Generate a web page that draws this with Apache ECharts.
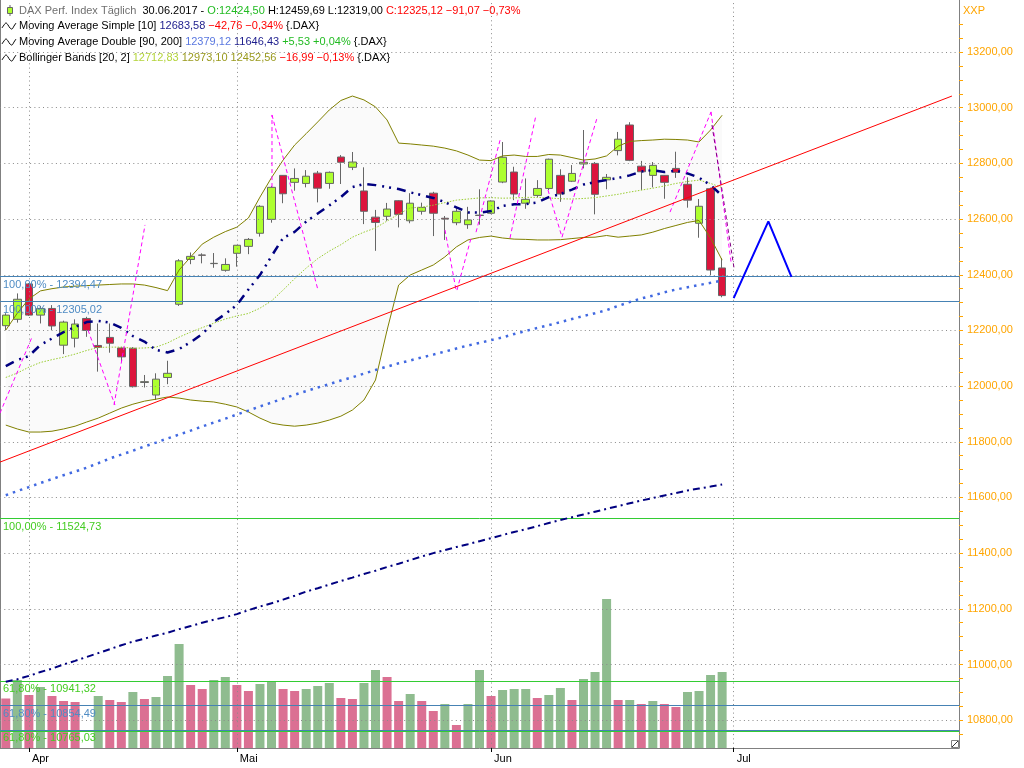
<!DOCTYPE html>
<html><head><meta charset="utf-8">
<script src="https://cdn.jsdelivr.net/npm/echarts@6/dist/echarts.min.js"></script>
<style>html,body{margin:0;padding:0;background:#fff}#c{width:1024px;height:768px}</style>
</head><body><div id="c"></div>
<script>
// ---------- categories (trading days + future slots) ----------
const dates = ['30.03.2017','31.03.2017',
 '03.04.2017','04.04.2017','05.04.2017','06.04.2017','07.04.2017','10.04.2017','11.04.2017','12.04.2017','13.04.2017',
 '18.04.2017','19.04.2017','20.04.2017','21.04.2017','24.04.2017','25.04.2017','26.04.2017','27.04.2017','28.04.2017',
 '02.05.2017','03.05.2017','04.05.2017','05.05.2017','08.05.2017','09.05.2017','10.05.2017','11.05.2017','12.05.2017',
 '15.05.2017','16.05.2017','17.05.2017','18.05.2017','19.05.2017','22.05.2017','23.05.2017','24.05.2017','25.05.2017',
 '26.05.2017','29.05.2017','30.05.2017','31.05.2017',
 '01.06.2017','02.06.2017','06.06.2017','07.06.2017','08.06.2017','09.06.2017','12.06.2017','13.06.2017','14.06.2017',
 '15.06.2017','16.06.2017','19.06.2017','20.06.2017','21.06.2017','22.06.2017','23.06.2017','26.06.2017','27.06.2017',
 '28.06.2017','29.06.2017','30.06.2017',
 '03.07.2017','04.07.2017','05.07.2017','06.07.2017','07.07.2017','10.07.2017','11.07.2017','12.07.2017','13.07.2017',
 '14.07.2017','17.07.2017','18.07.2017','19.07.2017','20.07.2017','21.07.2017','24.07.2017','25.07.2017','26.07.2017',
 '27.07.2017','28.07.2017'];
const monthIdx = [2, 20, 42, 63];
const monthNames = ['Apr', 'Mai', 'Jun', 'Jul'];

// ---------- price (OHLC) ----------
const open  = [12217,12240,12367,12255,12279,12147,12172,12243,12146,12175,12137,12136,12013,11968,12031,12294,12455,12471,12440,12416,
 12477,12502,12549,12599,12757,12732,12728,12765,12728,12823,12786,12701,12607,12610,12666,12594,12628,12693,12603,12587,12580,12614,
 12621,12733,12769,12657,12685,12710,12757,12736,12798,12800,12741,12846,12938,12790,12757,12757,12782,12725,12585,12709,12424.50];
const high  = [12262,12333,12370,12288,12291,12235,12240,12249,12225,12225,12141,12140,12040,12046,12091,12456,12480,12477,12478,12459,
 12507,12532,12650,12719,12758,12782,12776,12773,12771,12830,12841,12786,12633,12658,12668,12693,12659,12698,12611,12644,12644,12707,
 12667,12877,12788,12746,12740,12817,12779,12794,12920,12805,12762,12913,12948,12809,12805,12758,12842,12750,12672,12713,12459.69];
const low   = [12201,12228,12252,12225,12201,12115,12139,12177,12052,12120,12087,11995,11995,11950,12007,12288,12438,12441,12425,12411,
 12429,12474,12537,12587,12657,12702,12714,12660,12709,12726,12776,12582,12486,12594,12570,12585,12616,12539,12525,12578,12565,12580,
 12618,12729,12668,12637,12678,12704,12662,12733,12782,12617,12707,12829,12808,12704,12714,12673,12748,12641,12533,12399,12319.00];
const close = [12255,12312,12255,12279,12216,12230,12223,12200,12139,12154,12105,11998,12016,12025,12046,12450,12466,12470,12441,12437,
 12506,12527,12646,12714,12691,12746,12754,12711,12768,12804,12805,12628,12588,12636,12617,12657,12642,12621,12600,12628,12597,12613,
 12665,12822,12690,12671,12710,12815,12690,12764,12804,12689,12750,12887,12811,12770,12793,12732,12768,12668,12646,12417,12325.12];

// ---------- volume (relative units) and bar colouring ----------
const volume = [99,136,106,122,104,94,92,null,104,96,92,112,98,102,144,208,126,118,136,142,
 126,114,128,132,118,114,118,124,130,100,98,130,156,142,94,108,94,74,88,46,88,156,
 104,116,118,118,100,106,120,96,138,152,298,96,96,88,94,88,82,112,114,146,152];
const volumeUp = [0,1,0,1,0,0,0,0,1,0,0,1,0,1,1,1,0,0,1,1,
 0,0,1,1,0,0,1,1,1,0,0,1,1,0,0,1,0,0,1,0,1,1,
 0,1,1,1,0,1,1,0,1,1,1,0,1,0,1,0,0,1,1,1,1];

// ---------- indicators ----------
const sma10 = [12072,12094,12108,12148,12171,12194,12212,12230,12234,12228,12209,12180,12160,12130,12121,12133,12158,12187,12230,12259,
 12291,12347,12399,12467,12532,12554,12591,12620,12649,12679,12715,12726,12722,12715,12708,12696,12686,12676,12661,12642,12624,12623,
 12629,12647,12653,12654,12660,12679,12690,12706,12724,12733,12740,12748,12757,12771,12776,12769,12774,12764,12749,12722,12683.58];
const ma90 = [11608,11623,11637,11652,11666,11680,11693,11707,11723,11740,11754,11768,11783,11797,11812,11826,11840,11855,11869,11883,
 11898,11912,11927,11941,11955,11969,11982,11995,12007,12020,12032,12045,12058,12070,12082,12092,12103,12113,12124,12135,12146,12155,
 12165,12175,12187,12198,12209,12219,12230,12241,12252,12262,12273,12288,12302,12315,12325,12337,12347,12355,12363,12371,12379.12];
const ma200 = [10938,10947,10959,10973,10985,11000,11013,11027,11041,11055,11069,11082,11093,11104,11114,11127,11138,11150,11161,11170,
 11181,11195,11208,11220,11233,11247,11262,11274,11287,11300,11312,11325,11337,11350,11362,11375,11388,11400,11411,11422,11432,11443,
 11454,11465,11476,11486,11497,11508,11519,11529,11539,11549,11559,11569,11579,11589,11598,11607,11616,11625,11632,11639,11646.43];
const bbMid = [12031,12047,12068,12085,12095,12104,12115,12128,12139,12140,12140,12136,12137,12140,12155,12176,12194,12210,12226,12241,
 12252,12261,12280,12306,12345,12386,12424,12458,12485,12508,12535,12553,12568,12593,12618,12640,12643,12650,12659,12668,12672,12676,
 12677,12675,12676,12678,12678,12676,12673,12672,12674,12677,12683,12689,12697,12704,12711,12719,12728,12735,12740,12728,12712.83];
const bbUpper = [12201,12262,12313,12342,12350,12356,12359,12361,12363,12365,12367,12367,12363,12354,12343,12417,12464,12510,12535,12555,
 12571,12604,12679,12749,12812,12866,12907,12949,12992,13026,13042,13028,13003,12956,12873,12870,12866,12862,12855,12845,12830,12812,
 12810,12827,12830,12825,12825,12832,12830,12821,12812,12816,12827,12862,12879,12882,12884,12887,12886,12884,12877,12920,12973.10];
const bbLower = [11860,11846,11835,11835,11838,11846,11856,11871,11885,11903,11921,11935,11946,11953,11961,11957,11950,11946,11943,11935,
 11925,11907,11885,11867,11860,11856,11860,11867,11878,11892,11914,11950,12022,12201,12363,12399,12417,12435,12464,12500,12525,12534,
 12539,12532,12528,12527,12525,12525,12526,12530,12534,12535,12541,12535,12539,12543,12553,12566,12577,12588,12595,12532,12452.56];

// ---------- drawings (slot position, price) ----------
const trendX = [-0.5, 81.89];
const trendY = [11727, 13042];
const projX = [63, 66, 68];
const projY = [12316, 12592, 12392];
const trendMarkX = 62, trendMarkY = 12727.09;
// dashed cycle lines: [slotA, priceA, slotB, priceB]
const cycleSegments = [
  [-0.5, 11903, 2.27, 12176],
  [7.12, 12201, 9.45, 11932],
  [9.37, 11932, 12.05, 12579],
  [23.04, 12715, 23.04, 12974],
  [23.04, 12974, 27.02, 12345],
  [38.01, 12561, 38.97, 12345],
  [39.05, 12345, 40.27, 12532],
  [40.70, 12553, 42.78, 12884],
  [43.64, 12532, 45.89, 12974],
  [46.93, 12704, 48.14, 12535],
  [48.14, 12535, 51.17, 12963],
  [57.49, 12625, 61.04, 12985],
  [61.04, 12985, 62.77, 12446]
];
const cycleSegmentsPurple = [
  [61.12, 12938, 63.03, 12424]
];
const fibValues = [12394.47, 12305.02, 11524.73, 10941.32, 10854.49, 10765.03, 10761.10];
const fibLabels = ['100,00% - 12394,47','100,00% - 12305,02','100,00% - 11524,73','61,80% - 10941,32','61,80% - 10854,49','61,80% - 10765,03',''];
const fibKind   = ['b','b','g','g','b','b','g'];
const fibLabelKind = ['b','b','g','g','b','g','g'];

// ---------- axis values ----------
const yMin = 10700, yMax = 13387;
const yLabelValues = [10800,11000,11200,11400,11600,11800,12000,12200,12400,12600,12800,13000,13200];
const yTickValues = [];
for (let v = 10750; v <= 13300; v += 50) yTickValues.push(v);

const FONT = '"Liberation Sans", Arial, sans-serif';
const ORANGE = '#FFA500';
const fibLine = {b: '#4682b4', g: '#33cc33'};
const fibText = {b: '#4f8cc4', g: '#44cc22'};

const chart = echarts.init(document.getElementById('c'), null, {renderer: 'canvas'});
const fmtNum = v => v.toFixed(2).replace('.', ',');

const segSeries = (segs, color, z) => segs.map(s => ({
  type: 'line', xAxisIndex: 1, symbol: 'none', z: z, silent: true,
  data: [[s[0], s[1]], [s[2], s[3]]],
  lineStyle: {color: color, width: 1, type: [4, 3]}
}));

const option = {
  animation: false,
  backgroundColor: '#fff',
  textStyle: {fontFamily: FONT},
  grid: {left: 0, right: 65, top: 0, bottom: 20, containLabel: false},
  xAxis: [
    {type: 'category', data: dates, boundaryGap: true,
     axisLine: {show: true, onZero: false, lineStyle: {color: '#808080'}},
     axisTick: {show: true, alignWithLabel: true, length: 4, interval: (i) => monthIdx.includes(i), lineStyle: {color: '#000'}},
     axisLabel: {interval: (i) => monthIdx.includes(i), formatter: (v, i) => monthNames[monthIdx.indexOf(i)] || '',
                 align: 'left', padding: [0, 0, 0, 3], color: '#000', fontSize: 11, fontFamily: FONT, margin: 5},
     splitLine: {show: false}},
    {type: 'value', min: -0.5, max: dates.length - 0.5, show: false, axisLine: {onZero: false}}
  ],
  yAxis: [
    {type: 'value', position: 'right', min: yMin, max: yMax, scale: true,
     axisLine: {show: true, onZero: false, lineStyle: {color: '#808080'}},
     axisTick: {show: true, customValues: yTickValues, length: 4, lineStyle: {color: ORANGE}},
     axisLabel: {customValues: yLabelValues, formatter: fmtNum, color: ORANGE, fontSize: 11, fontFamily: FONT, margin: 8},
     splitLine: {show: false}},
    {type: 'value', min: 0, max: 1496, show: false, axisLine: {onZero: false}}
  ],
  series: [
    // grid lines
    {type: 'line', data: [], z: 1, silent: true,
     markLine: {silent: true, symbol: ['none', 'none'], animation: false, label: {show: false},
       lineStyle: {type: [1, 3.3], color: '#8a8a8a', width: 1},
       data: yLabelValues.map(v => ({yAxis: v})).concat(monthIdx.map(i => ({xAxis: dates[i]})))}},
    // bollinger fill
    {type: 'line', data: bbLower, stack: 'bb', symbol: 'none', silent: true, z: 1, lineStyle: {opacity: 0}},
    {type: 'line', data: bbUpper.map((u, i) => u - bbLower[i]), stack: 'bb', symbol: 'none', silent: true, z: 1,
     lineStyle: {opacity: 0}, areaStyle: {color: 'rgba(0,0,0,0.028)'}},
    // volume
    {type: 'bar', yAxisIndex: 1, barWidth: 9, z: 2,
     data: volume.map((v, i) => v == null ? null : {value: v, itemStyle: {color: volumeUp[i] ? '#8fbc8f' : '#db7093'}})},
    // fibonacci levels
    {type: 'line', data: [], z: 3, silent: true,
     markLine: {silent: true, symbol: ['none', 'none'], animation: false,
       data: fibValues.map((v, i) => ({yAxis: v,
         lineStyle: {color: fibLine[fibKind[i]], width: 1, type: 'solid'},
         label: {show: fibLabels[i] !== '', position: 'insideStartBottom', formatter: fibLabels[i],
                 color: fibText[fibLabelKind[i]], fontSize: 11, fontFamily: FONT, distance: [3, 3]}}))}},
    // candles
    {type: 'candlestick', barWidth: 8, z: 3,
     data: open.map((o, i) => [o, close[i], low[i], high[i]]),
     itemStyle: {color: '#adff2f', color0: '#dc143c', borderColor: '#666', borderColor0: '#666', borderColorDoji: '#666', borderWidth: 1}},
    // bollinger lines
    {type: 'line', data: bbUpper, symbol: 'none', z: 4, lineStyle: {color: '#808000', width: 1}},
    {type: 'line', data: bbLower, symbol: 'none', z: 4, lineStyle: {color: '#808000', width: 1}},
    {type: 'line', data: bbMid, symbol: 'none', z: 4, lineStyle: {color: '#9acd32', width: 1, type: [1.5, 1.5]}},
    // moving averages
    {type: 'line', data: ma90, symbol: 'none', z: 5, lineStyle: {color: '#4169e1', width: 2.5, type: [2.5, 5]}},
    {type: 'line', data: ma200, symbol: 'none', z: 5, lineStyle: {color: '#000080', width: 2, type: [7, 4, 2, 4]}},
    {type: 'line', data: sma10, symbol: 'none', z: 5, lineStyle: {color: '#000080', width: 2.5, type: [9, 6, 2, 5, 2, 6]}},
    // cycle lines
    ...segSeries(cycleSegments, '#ff00ff', 5),
    ...segSeries(cycleSegmentsPurple, '#800080', 5),
    // trend line
    {type: 'line', xAxisIndex: 1, data: trendX.map((x, i) => [x, trendY[i]]), symbol: 'none', z: 5,
     lineStyle: {color: '#ff0000', width: 1}},
    {type: 'scatter', xAxisIndex: 1, data: [[trendMarkX, trendMarkY]], symbolSize: 1, itemStyle: {opacity: 0}, z: 6,
     label: {show: true, position: 'right', distance: 1, offset: [0, 7], formatter: '12727,09', color: '#ff3030', fontSize: 11, fontFamily: FONT}},
    // projection
    {type: 'line', xAxisIndex: 1, data: projX.map((x, i) => [x, projY[i]]), symbol: 'none', z: 6,
     lineStyle: {color: '#0000ff', width: 2}}
  ],
  graphic: [
    {type: 'line', shape: {x1: 0.5, y1: 0, x2: 0.5, y2: 748}, style: {stroke: '#808080', lineWidth: 1}},
    {type: 'text', x: 963, y: 11, style: {text: 'XXP', fill: ORANGE, font: '11px ' + FONT, verticalAlign: 'middle'}},
    // line 1 icon
    {type: 'line', shape: {x1: 10, y1: 5, x2: 10, y2: 16}, style: {stroke: '#666', lineWidth: 1}},
    {type: 'rect', shape: {x: 7.5, y: 7.5, width: 5, height: 6}, style: {fill: '#adff2f', stroke: '#666', lineWidth: 1}},
    {type: 'text', x: 19, y: 10.5, style: {verticalAlign: 'middle', font: '11px ' + FONT, fill: '#000',
      text: '{g|DAX Perf. Index Täglich}  {k|30.06.2017} {k|-} {gr|O:12424,50} {k|H:12459,69} {k|L:12319,00} {r|C:12325,12 −91,07 −0,73%}',
      rich: {g: {fill: '#707070', fontFamily: FONT, fontSize: 11}, k: {fill: '#000', fontFamily: FONT, fontSize: 11},
             gr: {fill: '#22bb22', fontFamily: FONT, fontSize: 11}, r: {fill: '#ff0000', fontFamily: FONT, fontSize: 11}}}},
    ...[26, 42, 58].map(c => ({type: 'polyline', shape: {points: [[2, c + 2], [4, c - 1], [6, c - 3], [8, c - 1], [10, c + 2], [12, c + 3], [14, c], [16, c - 3]], smooth: 0.4},
      style: {stroke: '#000', lineWidth: 1, fill: null}})),
    {type: 'text', x: 19, y: 26, style: {verticalAlign: 'middle', font: '11px ' + FONT, fill: '#000',
      text: '{k|Moving Average Simple [10]} {n|12683,58} {r|−42,76 −0,34%} {.DAX}',
      rich: {k: {fill: '#000', fontFamily: FONT, fontSize: 11}, n: {fill: '#1c1c8c', fontFamily: FONT, fontSize: 11},
             r: {fill: '#ff0000', fontFamily: FONT, fontSize: 11}}}},
    {type: 'text', x: 19, y: 42, style: {verticalAlign: 'middle', font: '11px ' + FONT, fill: '#000',
      text: '{k|Moving Average Double [90, 200]} {b|12379,12} {n|11646,43} {gr|+5,53 +0,04%} {.DAX}',
      rich: {k: {fill: '#000', fontFamily: FONT, fontSize: 11}, b: {fill: '#5a78e0', fontFamily: FONT, fontSize: 11},
             n: {fill: '#1c1c8c', fontFamily: FONT, fontSize: 11}, gr: {fill: '#22bb22', fontFamily: FONT, fontSize: 11}}}},
    {type: 'text', x: 19, y: 58, style: {verticalAlign: 'middle', font: '11px ' + FONT, fill: '#000',
      text: '{k|Bollinger Bands [20, 2]} {y|12712,83} {o|12973,10} {o|12452,56} {r|−16,99 −0,13%} {.DAX}',
      rich: {k: {fill: '#000', fontFamily: FONT, fontSize: 11}, y: {fill: '#b4d43c', fontFamily: FONT, fontSize: 11},
             o: {fill: '#9a9a1e', fontFamily: FONT, fontSize: 11}, r: {fill: '#ff0000', fontFamily: FONT, fontSize: 11}}}},
    // resize glyph bottom-right
    {type: 'rect', shape: {x: 951.5, y: 740.5, width: 7, height: 7}, style: {fill: '#fff', stroke: '#808080', lineWidth: 1}},
    {type: 'line', shape: {x1: 952, y1: 747, x2: 958, y2: 741}, style: {stroke: '#333', lineWidth: 1}}
  ]
};
chart.setOption(option);
</script></body></html>
